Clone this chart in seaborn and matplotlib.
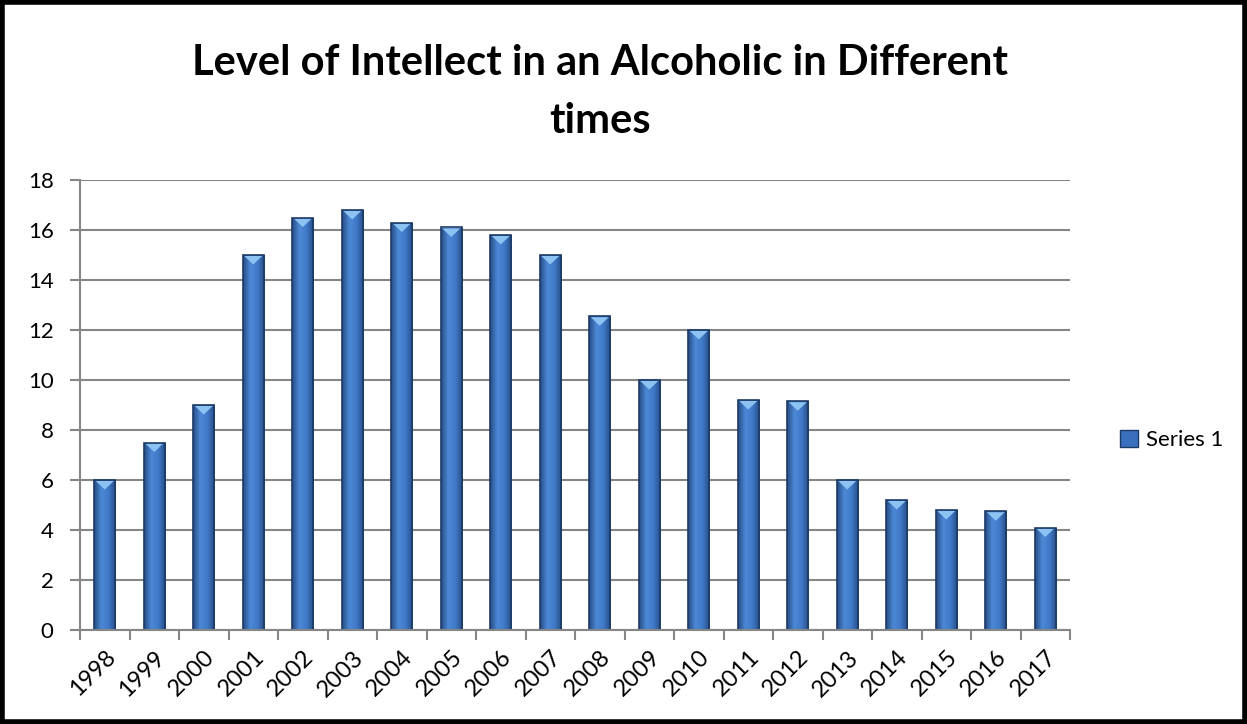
import seaborn as sns
import matplotlib.pyplot as plt
import matplotlib.patches as mpatches
from matplotlib.colors import LinearSegmentedColormap
import numpy as np
import pandas as pd

# data
years = ['1998', '1999', '2000', '2001', '2002', '2003', '2004', '2005', '2006', '2007',
         '2008', '2009', '2010', '2011', '2012', '2013', '2014', '2015', '2016', '2017']
series_1 = [6, 7.5, 9, 15, 16.5, 16.8, 16.3, 16.1, 15.8, 15,
            12.55, 10, 12, 9.2, 9.15, 6, 5.2, 4.8, 4.75, 4.1]
title_lines = ['Level of Intellect in an Alcoholic in Different', 'times']
series_name = 'Series 1'

df = pd.DataFrame({'year': years, 'value': series_1})

sns.set_style('white')
plt.rcParams['font.family'] = ['Lato', 'DejaVu Sans']
plt.rcParams['text.color'] = 'black'
plt.rcParams['xtick.labelcolor'] = 'black'
plt.rcParams['ytick.labelcolor'] = 'black'

bar_color = '#3A6FBE'
edge_color = '#1C3A66'
grid_color = '#868686'

fig = plt.figure(figsize=(12.47, 7.24), dpi=100)
ax = fig.add_axes([80 / 1247, 1 - 630 / 724, 990 / 1247, 450 / 724])

sns.barplot(data=df, x='year', y='value', ax=ax, color=bar_color, width=0.43,
            edgecolor=edge_color, linewidth=1.2, saturation=1)

# shaded look of the bars: horizontal gradient clipped to each bar, light bevel on top
shade = LinearSegmentedColormap.from_list('shade', ['#264C85', '#4C89D6', '#4079C8', '#264C85'])
grad = np.linspace(0, 1, 64).reshape(1, -1)
for bar in list(ax.patches):
    x0, w, h = bar.get_x(), bar.get_width(), bar.get_height()
    im = ax.imshow(grad, cmap=shade, extent=(x0, x0 + w, 0, h), aspect='auto',
                   origin='lower', zorder=bar.get_zorder(), interpolation='bicubic')
    im.set_clip_path(bar)
    ax.fill([x0 + 0.08 * w, x0 + 0.92 * w, x0 + w / 2], [h - 0.04, h - 0.04, h - 0.38],
            color='#8DC3F2', zorder=bar.get_zorder() + 0.1, lw=0)
    bar.set_facecolor('none')
    bar.set_zorder(bar.get_zorder() + 0.2)

ax.set_ylim(0, 18)
ax.set_xlim(-0.5, len(years) - 0.5)
ax.set_yticks(range(0, 19, 2))
ax.yaxis.grid(True, color=grid_color, linewidth=1.5)
ax.set_axisbelow(True)
ax.set_xlabel('')
ax.set_ylabel('')

for side in ['top', 'right']:
    ax.spines[side].set_visible(False)
for side in ['left', 'bottom']:
    ax.spines[side].set_color(grid_color)
    ax.spines[side].set_linewidth(1.5)

# category boundaries carry the tick marks, labels sit at category centres
ax.set_xticks([i - 0.5 for i in range(len(years) + 1)], minor=True)
ax.tick_params(axis='x', which='minor', length=7, width=1.5, color=grid_color, bottom=True)
ax.tick_params(axis='x', which='major', length=0, pad=12)
ax.tick_params(axis='y', length=7, width=1.5, color=grid_color, left=True, pad=12)
ax.set_xticks(range(len(years)))
ax.set_xticklabels(years, rotation=45, ha='right', rotation_mode='anchor', fontsize=17)
for lbl in ax.get_yticklabels():
    lbl.set_fontsize(16)

fig.text(600 / 1247, 1 - 75 / 724, title_lines[0], ha='center', va='baseline',
         fontsize=30, fontweight='bold')
fig.text(600 / 1247, 1 - 133 / 724, title_lines[1], ha='center', va='baseline',
         fontsize=30, fontweight='bold')

handle = mpatches.Patch(facecolor=bar_color, edgecolor=edge_color, label=series_name)
fig.legend(handles=[handle], loc='center left', bbox_to_anchor=(1100 / 1247, 1 - 440 / 724),
           frameon=False, fontsize=16, handlelength=0.8, handleheight=0.8, handletextpad=0.35)

# thick black frame around the whole chart
fig.patches.append(mpatches.Rectangle((0.002, 0.003), 0.996, 0.994, transform=fig.transFigure,
                                      fill=False, edgecolor='black', linewidth=4))

fig.savefig('out.png', dpi=100)
